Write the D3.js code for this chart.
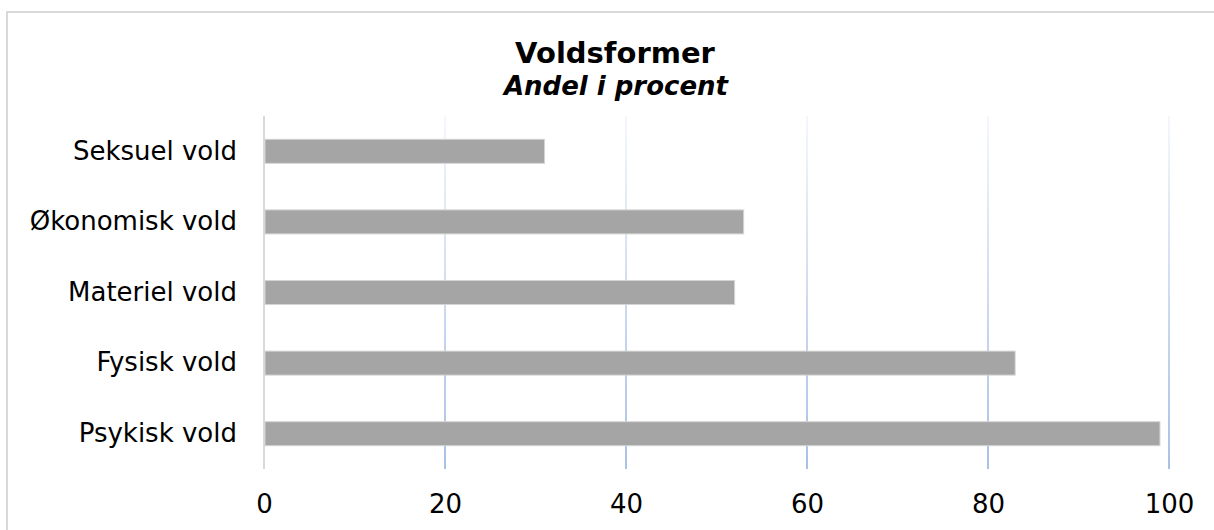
<!DOCTYPE html>
<html>
<head>
<meta charset="utf-8">
<script src="https://cdn.jsdelivr.net/npm/d3@7"></script>
<style>
  body { margin: 0; background: #fff; }
  text { font-family: "DejaVu Sans", Verdana, sans-serif; }
</style>
</head>
<body>
<svg width="1214" height="530"></svg>
<script>
const categories = ["Seksuel vold", "Økonomisk vold", "Materiel vold", "Fysisk vold", "Psykisk vold"];
const values = [31, 53, 52, 83, 99];
const xTicks = [0, 20, 40, 60, 80, 100];
const titleText = "Voldsformer";
const subtitleText = "Andel i procent";

const svg = d3.select('svg');
const width = +svg.attr('width');
const height = +svg.attr('height');

const data = categories.map((c, i) => ({ name: c, value: values[i] }));

// chart frame, runs off the right and bottom edge
svg.append('rect')
    .attr('x', 7)
    .attr('y', 12)
    .attr('width', width)
    .attr('height', height)
    .attr('fill', 'none')
    .attr('stroke', '#d9d9d9')
    .attr('stroke-width', 2);

const margin = { top: 116, right: 44, bottom: 61, left: 264 };
const innerHeight = height - margin.top - margin.bottom;

const xScale = d3.scaleLinear()
    .domain([0, 100])
    .range([0, 905]);

const yScale = d3.scaleBand()
    .domain(categories)
    .range([0, innerHeight])
    .paddingInner(0.66)
    .paddingOuter(0.33);

const defs = svg.append('defs');
const grad = defs.append('linearGradient')
    .attr('id', 'gridFade')
    .attr('gradientUnits', 'userSpaceOnUse')
    .attr('x1', 0).attr('y1', 0)
    .attr('x2', 0).attr('y2', innerHeight);
grad.append('stop').attr('offset', '0%').attr('stop-color', '#f4f7fc');
grad.append('stop').attr('offset', '100%').attr('stop-color', '#a9c0e6');

const g = svg.append('g')
    .attr('transform', `translate(${margin.left},${margin.top})`);

// vertical gridlines
g.selectAll('.grid')
    .data(xTicks.filter(d => d > 0))
    .enter()
    .append('line')
    .attr('class', 'grid')
    .attr('x1', d => xScale(d))
    .attr('x2', d => xScale(d))
    .attr('y1', 0)
    .attr('y2', innerHeight)
    .attr('stroke', 'url(#gridFade)')
    .attr('stroke-width', 2);

// zero line
g.append('line')
    .attr('x1', xScale(0))
    .attr('x2', xScale(0))
    .attr('y1', 0)
    .attr('y2', innerHeight)
    .attr('stroke', '#d9d9d9')
    .attr('stroke-width', 2);

g.selectAll('.bar')
    .data(data)
    .enter()
    .append('rect')
    .attr('class', 'bar')
    .attr('x', xScale(0) + 1)
    .attr('y', d => yScale(d.name))
    .attr('width', d => xScale(d.value) - xScale(0) - 1)
    .attr('height', yScale.bandwidth())
    .attr('fill', '#a5a5a5')
    .attr('stroke', '#d4d4d4')
    .attr('stroke-width', 1);

// y axis labels
const yAxis = d3.axisLeft(yScale).tickSize(0).tickPadding(27);
g.append('g')
    .call(yAxis)
    .call(s => s.select('.domain').remove())
    .selectAll('text')
    .attr('fill', '#000')
    .style('font-size', '26px')
    .style('font-family', '"DejaVu Sans", Verdana, sans-serif');

// x axis labels
const xAxis = d3.axisBottom(xScale).tickValues(xTicks).tickSize(0).tickPadding(26);
g.append('g')
    .attr('transform', `translate(0,${innerHeight})`)
    .call(xAxis)
    .call(s => s.select('.domain').remove())
    .selectAll('text')
    .attr('fill', '#000')
    .style('font-size', '26px')
    .style('font-family', '"DejaVu Sans", Verdana, sans-serif');

svg.append('text')
    .attr('x', 615)
    .attr('y', 63)
    .attr('text-anchor', 'middle')
    .style('font-size', '29px')
    .style('font-weight', 'bold')
    .text(titleText);

svg.append('text')
    .attr('x', 616)
    .attr('y', 95)
    .attr('text-anchor', 'middle')
    .style('font-size', '26px')
    .style('font-weight', 'bold')
    .style('font-style', 'italic')
    .text(subtitleText);
</script>
</body>
</html>
